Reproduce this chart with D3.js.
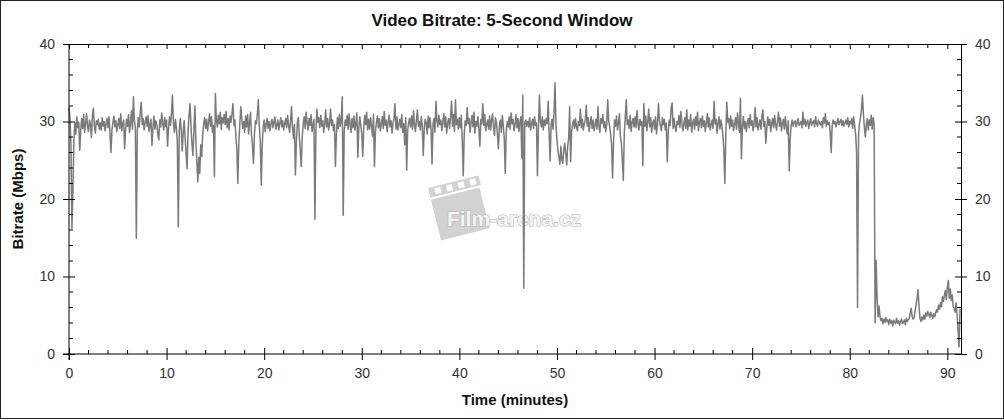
<!DOCTYPE html>
<html><head><meta charset="utf-8">
<script src="https://cdn.jsdelivr.net/npm/d3@7"></script>
<style>
html,body{margin:0;padding:0;background:#fff;}
svg{display:block;}
text{font-family:Arial,"Liberation Sans",sans-serif;}
</style></head>
<body>
<svg id="chart" width="1004" height="420"></svg>
<script>
const titleText = "Video Bitrate: 5-Second Window";
const xLabel = "Time (minutes)";
const yLabel = "Bitrate (Mbps)";
const xTicks = [0,10,20,30,40,50,60,70,80,90];
const yTicks = [0,10,20,30,40];
const xDomain = [0, 91.4];
const yDomain = [0, 40];
const stepMinutes = 0.1;
// bitrate in Mbps, one value per 0.1 minute (rows = one minute each)
const bitrate = [
31.8,30.5,27.0,16.2,21.0,27.5,29.8,28.4,30.6,29.2,
29.9,26.3,28.8,30.4,29.1,30.9,28.6,29.7,31.0,29.3,
28.7,30.2,29.6,27.9,30.8,31.7,29.4,28.5,30.1,29.6,
30.3,29.0,29.8,28.9,30.5,29.4,30.0,28.8,29.7,30.4,
29.2,30.6,28.5,26.0,28.9,29.9,30.7,29.3,30.1,28.7,
29.6,30.4,29.1,31.0,28.8,29.7,30.2,26.5,29.0,30.3,
29.4,30.9,28.6,29.8,31.4,29.0,33.2,30.1,29.2,14.9,
28.8,30.5,29.3,31.2,32.5,29.6,30.4,28.9,29.9,30.6,
29.4,30.8,28.7,29.6,30.3,26.9,29.2,30.7,29.0,30.1,
29.5,28.4,27.6,30.2,29.3,31.1,29.8,28.9,30.5,29.4,
30.2,26.8,29.1,30.6,29.5,31.0,33.4,29.8,28.6,30.3,
29.2,27.5,16.4,28.8,30.4,29.0,26.2,28.5,30.1,27.9,
25.8,23.9,28.7,30.8,32.3,29.4,27.1,25.6,28.9,32.0,
27.6,24.8,22.2,25.4,23.3,27.0,25.5,28.4,29.7,30.5,
29.1,30.3,28.8,29.9,31.0,29.4,30.6,28.6,29.5,22.9,
33.6,30.2,29.3,30.8,29.7,31.2,29.0,30.5,29.8,30.9,
29.6,31.3,29.2,30.4,28.9,30.7,29.9,31.0,32.3,29.5,
30.2,28.1,26.4,22.0,27.3,29.6,31.9,30.4,29.1,30.0,
28.6,30.7,29.3,30.9,28.4,29.8,31.2,28.2,27.0,24.6,
28.3,30.1,29.7,31.0,32.8,29.4,27.6,21.8,26.9,29.3,
30.2,28.7,29.6,30.4,29.1,30.0,28.8,29.7,30.3,29.2,
29.9,30.6,29.0,29.5,30.2,28.9,29.8,30.5,29.3,30.1,
28.9,29.7,30.4,29.2,30.8,29.5,28.6,30.0,31.9,29.3,
27.8,29.6,23.1,27.4,29.9,30.5,28.1,26.2,24.2,28.0,
29.7,30.6,29.1,31.2,29.8,28.9,30.4,29.5,30.9,28.7,
29.6,30.3,17.4,28.8,31.6,29.9,30.5,29.2,30.8,29.4,
30.1,28.6,29.7,31.5,29.3,30.4,28.9,29.8,31.6,29.5,
30.2,28.8,29.6,24.2,28.3,30.5,29.1,30.9,29.4,30.3,
33.2,17.9,28.7,30.2,29.5,30.8,29.0,31.0,29.7,28.6,
30.4,29.2,30.7,28.9,29.8,31.1,25.4,29.3,30.6,29.5,
28.4,25.5,29.2,30.8,29.6,31.2,28.9,30.3,29.0,30.5,
29.4,28.1,30.9,24.2,28.6,29.9,30.7,29.2,30.4,28.8,
29.7,30.6,29.1,31.3,29.5,30.2,28.7,29.9,30.8,29.3,
30.1,28.5,29.8,30.4,32.3,29.0,30.6,28.9,29.6,30.3,
29.2,30.9,28.6,29.7,27.0,30.5,23.7,28.8,29.9,30.4,
29.3,30.7,29.0,31.4,29.6,28.7,30.2,31.5,29.4,30.0,
28.9,30.6,29.5,25.6,29.1,30.3,29.8,28.4,30.7,29.2,
30.5,29.0,24.5,29.7,30.4,28.6,32.6,30.1,29.3,30.8,
29.6,30.2,28.8,29.9,31.0,29.3,30.6,28.5,29.8,30.4,
29.1,30.7,32.6,29.4,30.9,28.7,32.8,29.6,30.3,29.0,
30.5,29.2,30.8,27.5,23.0,28.4,30.1,29.5,31.8,29.7,
30.4,28.6,29.9,30.8,29.3,31.2,28.5,30.0,29.4,30.6,
29.1,26.8,30.3,29.7,32.3,29.5,30.9,28.8,29.6,30.2,
29.0,30.7,28.9,30.1,31.0,29.3,28.2,30.5,29.8,28.4,
26.5,29.4,30.2,28.6,30.8,29.5,27.8,23.3,28.5,30.0,
29.3,30.6,29.0,31.1,29.7,30.3,28.8,29.6,30.9,29.2,
30.4,28.7,29.9,30.6,25.3,33.4,8.5,29.8,30.2,29.4,
30.0,29.3,30.5,28.9,29.7,30.3,29.1,30.6,29.5,29.8,
23.0,29.2,33.4,30.0,29.3,30.6,28.9,30.2,29.5,30.4,
29.7,32.6,28.4,24.9,29.6,30.3,29.0,31.2,35.0,29.5,
27.6,26.2,25.4,24.5,26.8,25.1,24.6,26.4,27.2,25.8,
24.4,26.9,27.8,31.9,24.8,28.7,29.6,30.2,29.1,30.4,
29.3,28.8,30.0,29.5,31.6,29.2,30.3,28.9,29.7,30.1,
32.1,29.4,30.5,28.7,29.9,30.6,29.1,30.2,28.8,29.6,
30.3,29.0,31.9,29.5,28.6,30.4,29.8,30.9,29.2,30.0,
28.7,29.6,32.8,30.1,29.3,28.4,26.9,22.7,27.5,30.2,
29.4,30.7,28.9,29.8,31.0,28.1,27.2,25.0,22.4,28.6,
30.5,32.8,29.6,30.2,29.1,30.8,28.7,29.9,30.4,29.3,
30.6,29.2,31.4,29.7,28.9,30.3,29.5,30.0,24.3,32.3,
29.4,30.7,28.8,29.9,31.6,29.3,30.5,28.6,29.8,30.2,
29.0,30.6,28.4,29.7,32.3,30.1,29.4,28.8,30.5,29.6,
30.3,28.9,29.8,24.8,28.6,30.2,29.5,31.8,32.4,29.1,
30.4,29.3,28.7,30.0,29.6,30.8,29.2,31.3,29.9,28.8,
29.7,30.5,29.1,31.5,28.9,30.2,29.4,30.9,28.6,29.8,
30.3,29.0,30.6,29.5,31.2,28.8,29.9,30.4,29.2,30.7,
29.4,30.1,28.7,29.8,31.0,29.3,30.5,28.9,29.6,30.2,
29.1,32.6,29.7,30.3,28.5,29.8,30.6,29.0,30.2,29.5,
28.3,26.4,22.0,28.2,32.5,29.9,30.4,29.1,30.7,29.4,
30.2,28.8,29.6,30.5,29.0,31.1,29.7,28.6,33.0,25.2,
29.4,30.6,29.1,30.0,28.7,29.8,30.4,29.2,30.9,29.5,
30.1,28.8,29.7,31.8,29.3,30.5,28.9,29.6,30.2,29.0,
30.7,31.5,29.4,30.0,27.2,29.1,30.6,29.5,30.3,28.7,
29.8,30.4,29.2,30.8,29.6,28.9,30.1,31.2,29.4,30.5,
28.8,29.7,30.3,29.0,30.6,29.3,28.4,30.1,23.6,27.8,
29.6,30.2,29.4,29.9,30.1,29.3,29.8,30.4,29.5,29.7,
30.0,29.2,31.2,29.6,30.3,29.4,29.9,30.2,29.1,29.8,
30.4,29.5,29.9,30.1,29.3,30.6,29.7,29.4,30.2,29.8,
29.6,30.0,29.2,30.5,29.8,31.0,29.4,30.1,29.6,29.9,
28.6,26.0,29.5,30.2,29.7,30.0,29.3,29.8,30.4,29.6,
29.9,30.3,29.5,30.1,29.4,29.8,30.2,29.6,30.5,29.3,
30.0,29.7,30.4,29.1,30.6,29.5,28.4,26.0,6.0,28.2,
29.8,30.5,31.5,33.4,31.0,29.2,28.0,29.6,30.4,28.9,
30.2,29.5,30.8,29.0,30.5,29.7,4.0,12.1,7.4,4.8,
6.2,4.8,4.3,4.6,3.9,4.5,4.1,4.7,4.2,4.4,
3.8,4.5,4.0,4.3,3.6,4.4,4.1,3.9,4.6,4.0,
4.3,3.7,4.2,4.5,3.9,4.1,4.4,3.8,4.6,4.2,
4.4,4.6,5.3,5.9,4.8,4.5,4.7,5.6,6.4,7.2,
8.3,6.1,4.6,4.2,4.8,4.4,5.0,4.5,5.3,4.9,
5.5,5.1,4.7,5.4,5.0,4.6,5.2,4.8,5.3,5.7,
5.4,6.3,5.8,6.6,6.1,7.4,6.8,7.6,8.2,7.0,
8.6,9.5,7.2,8.4,6.9,7.6,6.1,5.9,5.4,6.6,
5.2,3.0,0.9,5.8
];

const svg = d3.select("#chart");
const W = 1004, H = 420;
const m = {left: 69, right: 1004 - 961, top: 44, bottom: 420 - 354};
const x = d3.scaleLinear().domain(xDomain).range([m.left, W - m.right]);
const y = d3.scaleLinear().domain(yDomain).range([H - m.bottom, m.top]);

// outer border
svg.append("rect").attr("x",0.5).attr("y",0.5).attr("width",W-1).attr("height",H-2)
  .attr("fill","#fff").attr("stroke","#222").attr("stroke-width",1);

// watermark
const wm = svg.append("g").attr("transform","translate(428,188) rotate(-14)");
wm.append("rect").attr("x",0).attr("y",12).attr("width",50).attr("height",42).attr("fill","#d2d2d2");
wm.append("rect").attr("x",0).attr("y",0).attr("width",52).attr("height",10).attr("fill","#d2d2d2");
[6,18,30,42].forEach(s=>wm.append("rect").attr("x",s).attr("y",2).attr("width",6).attr("height",6).attr("fill","#fff"));
svg.append("text").attr("x",514).attr("y",226).attr("text-anchor","middle")
  .attr("font-size",21).attr("font-weight","bold").attr("fill","#f4f4f4")
  .attr("stroke","#b9b9b9").attr("stroke-width",1.2).attr("paint-order","stroke").text("Film-arena.cz");

// data line
const line = d3.line().x((d,i)=>x(i*stepMinutes)).y(d=>y(d));
svg.append("path").datum(bitrate).attr("d",line).attr("fill","none")
  .attr("stroke","#7a7a7a").attr("stroke-width",1.5).attr("stroke-linejoin","round");

const minorX = d3.range(0, 92, 2).filter(v=>v%10!==0);
const minorY = d3.range(0, 41, 2).filter(v=>v%10!==0);

function styleAxis(g){
  g.selectAll("path.domain").attr("stroke","#000");
  g.selectAll(".tick line").attr("stroke","#000");
  g.selectAll(".tick text").attr("font-size",14).attr("fill","#333")
    .attr("font-family","Arial, 'Liberation Sans', sans-serif");
}
// bottom axis
const gb = svg.append("g").attr("transform",`translate(0,${y(0)})`)
  .call(d3.axisBottom(x).tickValues(xTicks).tickSize(6).tickSizeOuter(0).tickPadding(8));
gb.selectAll(".tick line").attr("y1",-6);
styleAxis(gb);
gb.selectAll("path.domain").attr("d",`M${x(0)-6},0H${x(xDomain[1])}`);
gb.selectAll(".minor").data(minorX).join("line").attr("x1",d=>x(d)).attr("x2",d=>x(d))
  .attr("y1",0).attr("y2",-4).attr("stroke","#000");
// top axis
const gt = svg.append("g").attr("transform",`translate(0,${y(40)})`)
  .call(d3.axisTop(x).tickValues(xTicks).tickSize(-5).tickSizeOuter(0).tickFormat(""));
styleAxis(gt);
gt.selectAll(".minor").data(minorX).join("line").attr("x1",d=>x(d)).attr("x2",d=>x(d))
  .attr("y1",0).attr("y2",4).attr("stroke","#000");
// left axis
const gl = svg.append("g").attr("transform",`translate(${x(0)},0)`)
  .call(d3.axisLeft(y).tickValues(yTicks).tickSize(6).tickSizeOuter(0).tickPadding(8));
gl.selectAll(".tick line").attr("x1",6);
styleAxis(gl);
gl.selectAll("path.domain").attr("d",`M0,${y(40)}V${y(0)+6}`);
gl.selectAll(".minor").data(minorY).join("line").attr("y1",d=>y(d)).attr("y2",d=>y(d))
  .attr("x1",0).attr("x2",4).attr("stroke","#000");
// right axis
const gr = svg.append("g").attr("transform",`translate(${x(xDomain[1])},0)`)
  .call(d3.axisRight(y).tickValues(yTicks).tickSize(6).tickSizeOuter(0).tickPadding(8));
gr.selectAll(".tick line").attr("x1",-6);
styleAxis(gr);
gr.selectAll(".minor").data(minorY).join("line").attr("y1",d=>y(d)).attr("y2",d=>y(d))
  .attr("x1",0).attr("x2",-4).attr("stroke","#000");

// title & labels
svg.append("text").attr("x",502).attr("y",26).attr("text-anchor","middle")
  .attr("font-size",17).attr("font-weight","bold").attr("fill","#111").text(titleText);
svg.append("text").attr("x",515).attr("y",405).attr("text-anchor","middle")
  .attr("font-size",15).attr("font-weight","bold").attr("fill","#111").text(xLabel);
svg.append("text").attr("transform",`translate(23,${y(20)}) rotate(-90)`).attr("text-anchor","middle")
  .attr("font-size",15).attr("font-weight","bold").attr("fill","#111").text(yLabel);
</script>
</body></html>
